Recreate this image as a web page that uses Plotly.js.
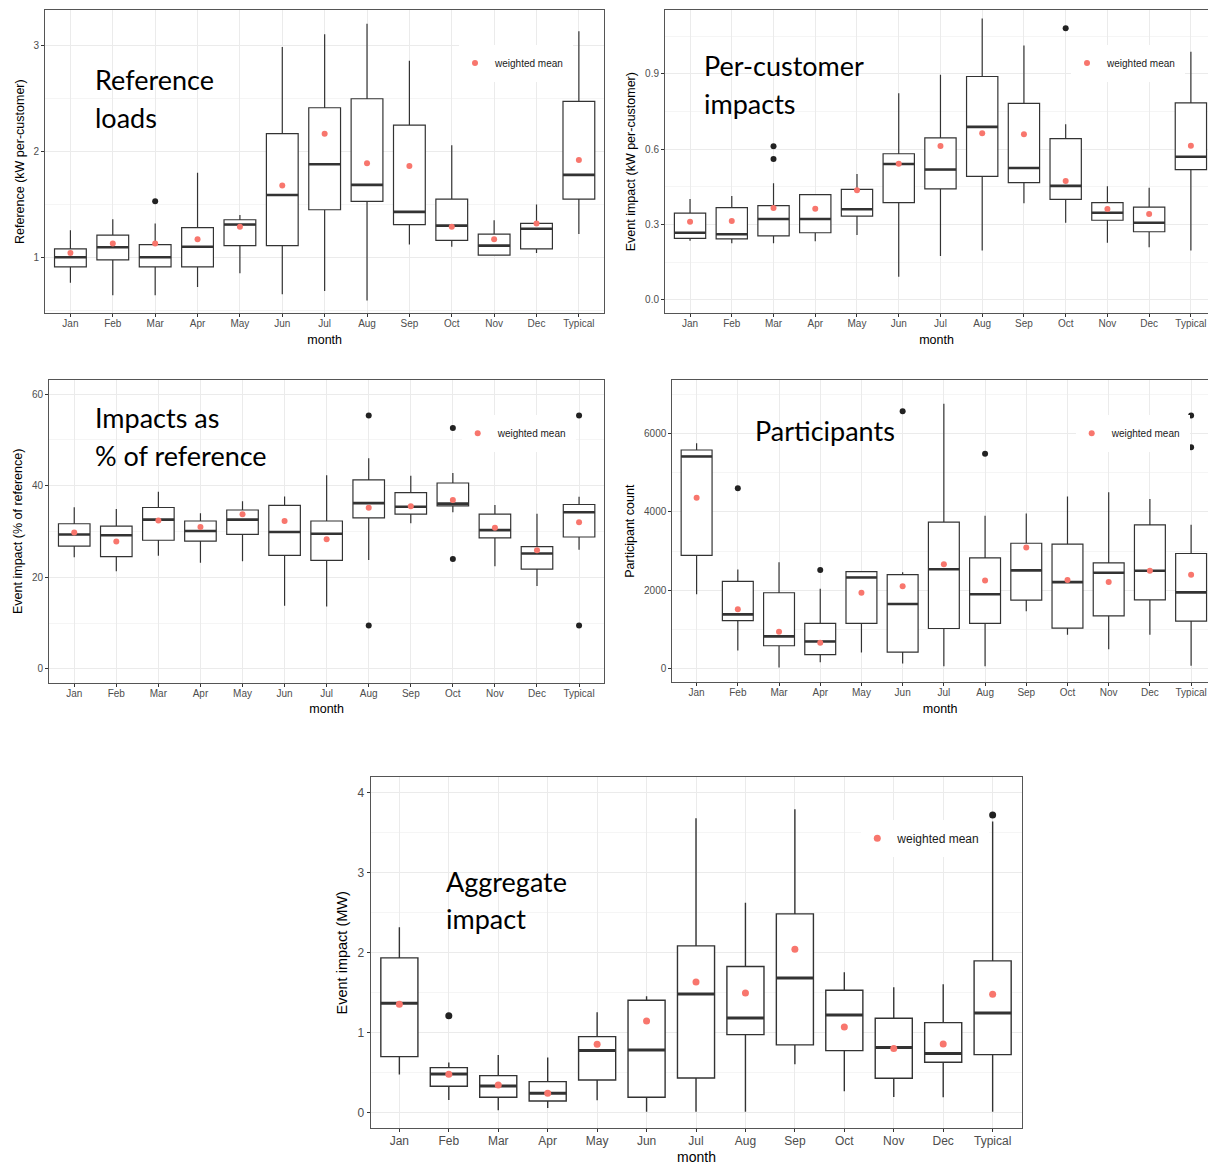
<!DOCTYPE html>
<html>
<head>
<meta charset="utf-8">
<script src="https://cdn.plot.ly/plotly-3.0.1.min.js"></script>
<style>
  html, body { margin: 0; padding: 0; background: #ffffff; }
  #chart { width: 1208px; height: 1165px; }
</style>
</head>
<body>
<div id="chart"></div>
<script>
// Month categories shared by every panel
const MONTHS = ['Jan', 'Feb', 'Mar', 'Apr', 'May', 'Jun', 'Jul', 'Aug', 'Sep', 'Oct', 'Nov', 'Dec', 'Typical'];

// Reference loads (kW per customer)
const refLow  = [0.76, 0.64, 0.64, 0.72, 0.85, 0.65, 0.68, 0.59, 1.12, 1.10, 1.015, 1.04, 1.22];
const refQ1   = [0.91, 0.975, 0.91, 0.91, 1.11, 1.11, 1.45, 1.53, 1.31, 1.16, 1.02, 1.08, 1.55];
const refMed  = [1.00, 1.095, 1.00, 1.10, 1.31, 1.59, 1.88, 1.685, 1.43, 1.30, 1.11, 1.27, 1.78];
const refQ3   = [1.08, 1.21, 1.12, 1.28, 1.355, 2.17, 2.415, 2.50, 2.25, 1.55, 1.22, 1.32, 2.475];
const refHigh = [1.256, 1.36, 1.32, 1.80, 1.40, 2.99, 3.11, 3.21, 2.86, 2.06, 1.35, 1.50, 3.14];
const refMean = [1.04, 1.13, 1.13, 1.17, 1.29, 1.68, 2.17, 1.89, 1.865, 1.29, 1.17, 1.32, 1.92];
const refOutMonth = ['Mar'];
const refOutValue = [1.53];

// Per-customer event impact (kW per customer)
const pcLow  = [0.235, 0.225, 0.225, 0.233, 0.258, 0.092, 0.174, 0.196, 0.385, 0.307, 0.227, 0.209, 0.196];
const pcQ1   = [0.245, 0.243, 0.255, 0.267, 0.333, 0.387, 0.442, 0.492, 0.467, 0.400, 0.317, 0.271, 0.519];
const pcMed  = [0.267, 0.261, 0.322, 0.322, 0.361, 0.541, 0.519, 0.689, 0.525, 0.454, 0.347, 0.307, 0.570];
const pcQ3   = [0.345, 0.367, 0.375, 0.419, 0.440, 0.582, 0.645, 0.890, 0.783, 0.642, 0.387, 0.369, 0.785];
const pcHigh = [0.402, 0.414, 0.464, 0.420, 0.501, 0.823, 0.897, 1.121, 1.013, 0.700, 0.452, 0.446, 0.989];
const pcMean = [0.311, 0.314, 0.366, 0.363, 0.436, 0.542, 0.613, 0.664, 0.660, 0.473, 0.362, 0.342, 0.614];
const pcOutMonth = ['Mar', 'Mar', 'Oct'];
const pcOutValue = [0.612, 0.561, 1.082];

// Event impact as % of reference
const pctLow  = [24.4, 21.3, 24.7, 23.2, 23.5, 13.8, 13.6, 23.8, 31.8, 34.2, 22.4, 18.1, 26.0];
const pctQ1   = [26.8, 24.5, 28.1, 27.9, 29.4, 24.8, 23.7, 33.0, 33.8, 35.6, 28.6, 21.8, 28.8];
const pctMed  = [29.35, 29.2, 32.6, 30.1, 32.6, 29.9, 29.5, 36.2, 35.4, 36.1, 30.3, 25.2, 34.2];
const pctQ3   = [31.7, 31.2, 35.25, 32.3, 34.7, 35.7, 32.3, 41.3, 38.5, 40.6, 33.8, 26.7, 35.9];
const pctHigh = [35.3, 34.9, 38.7, 34.0, 36.6, 37.65, 42.3, 46.0, 42.2, 42.8, 35.8, 33.9, 37.6];
const pctMean = [29.8, 27.8, 32.4, 31.0, 33.8, 32.3, 28.3, 35.2, 35.5, 36.9, 30.8, 25.9, 32.0];
const pctOutMonth = ['Aug', 'Aug', 'Oct', 'Oct', 'Typical', 'Typical'];
const pctOutValue = [55.35, 9.5, 52.6, 24.0, 55.35, 9.5];

// Participant count
const partLow  = [1900, 470, 40, 170, 420, 140, 70, 70, 1470, 870, 500, 870, 80];
const partQ1   = [2890, 1230, 590, 365, 1160, 430, 1030, 1160, 1750, 1040, 1350, 1760, 1220];
const partMed  = [5410, 1390, 830, 700, 2330, 1655, 2540, 1900, 2510, 2210, 2450, 2500, 1950];
const partQ3   = [5575, 2230, 1940, 1160, 2480, 2400, 3740, 2830, 3200, 3180, 2700, 3670, 2940];
const partHigh = [5745, 2530, 2715, 2040, 2480, 2460, 6755, 3900, 3960, 4390, 4500, 4330, 3670];
const partMean = [4360, 1520, 950, 670, 1940, 2105, 2665, 2250, 3090, 2265, 2215, 2500, 2400];
const partOutMonth = ['Feb', 'Apr', 'Jun', 'Aug', 'Typical', 'Typical'];
const partOutValue = [4600, 2520, 6560, 5480, 6450, 5645];

// Aggregate event impact (MW)
const aggLow  = [0.475, 0.158, 0.029, 0.058, 0.154, 0.01, 0.01, 0.01, 0.604, 0.267, 0.196, 0.192, 0.01];
const aggQ1   = [0.70, 0.329, 0.192, 0.146, 0.408, 0.192, 0.433, 0.975, 0.846, 0.775, 0.429, 0.629, 0.725];
const aggMed  = [1.367, 0.483, 0.333, 0.242, 0.775, 0.783, 1.483, 1.183, 1.683, 1.221, 0.8125, 0.7375, 1.246];
const aggQ3   = [1.933, 0.5625, 0.4625, 0.3875, 0.95, 1.404, 2.083, 1.825, 2.483, 1.529, 1.179, 1.125, 1.896];
const aggHigh = [2.317, 0.625, 0.721, 0.6875, 1.254, 1.454, 3.679, 2.621, 3.79, 1.754, 1.567, 1.604, 3.6375];
const aggMean = [1.354, 0.479, 0.346, 0.242, 0.854, 1.146, 1.633, 1.496, 2.042, 1.071, 0.80, 0.858, 1.479];
const aggOutMonth = ['Feb', 'Typical'];
const aggOutValue = [1.21, 3.72];

// ---- drawing ----
const W = 1208, H = 1165;
const BOX_W = 0.75;
const INK = '#333333';
const MEAN_COLOR = '#F8766D';
const AXIS_FONT = '"Liberation Sans", Arial, Helvetica, sans-serif';
const NOTE_FONT = 'Lato, "Open Sans", sans-serif';
const positions = MONTHS.map((_, i) => i);

// legend entry geometry: white frame, pulled-in indent, resulting text offset
const LEG_BORDER = 4;
const LEG_INDENT = -8;
const LEG_TEXT_OFFSET = 40 + LEG_INDENT + LEG_BORDER;

// Panel frames are given in page pixels: [left, right] and [top, bottom]
const panels = [
  {
    low: refLow, q1: refQ1, med: refMed, q3: refQ3, high: refHigh, mean: refMean,
    outMonth: refOutMonth, outValue: refOutValue,
    px: [45, 604.3], py: [10, 313.3], xr: [-0.6, 12.6], yr: [0.47, 3.34],
    dtick: 1, fmt: '', ytitle: 'Reference (kW per-customer)', big: false,
    legendText: [495, 63],
    notes: [['Reference', 93, 79.5], ['loads', 93, 118]]
  },
  {
    low: pcLow, q1: pcQ1, med: pcMed, q3: pcQ3, high: pcHigh, mean: pcMean,
    outMonth: pcOutMonth, outValue: pcOutValue,
    px: [665, 1208], py: [10, 313.3], xr: [-0.6, 12.41], yr: [-0.054, 1.155],
    dtick: 0.3, fmt: '.1f', ytitle: 'Event impact (kW per-customer)', big: false,
    legendText: [1107, 63],
    notes: [['Per-customer', 702, 66], ['impacts', 702, 104]]
  },
  {
    low: pctLow, q1: pctQ1, med: pctMed, q3: pctQ3, high: pctHigh, mean: pctMean,
    outMonth: pctOutMonth, outValue: pctOutValue,
    px: [49, 604.3], py: [380, 682.6], xr: [-0.6, 12.6], yr: [-3.0, 63.1],
    dtick: 20, fmt: 'd', ytitle: 'Event impact (% of reference)', big: false,
    legendText: [497.7, 433.3],
    notes: [['Impacts as', 92.5, 417], ['% of reference', 92.5, 456]]
  },
  {
    low: partLow, q1: partQ1, med: partMed, q3: partQ3, high: partHigh, mean: partMean,
    outMonth: partOutMonth, outValue: partOutValue,
    px: [672.3, 1208], py: [380, 682.3], xr: [-0.59, 12.41], yr: [-340, 7357],
    dtick: 2000, fmt: 'd', ytitle: 'Participant count', big: false,
    legendText: [1111.7, 433.3],
    notes: [['Participants', 753, 431]]
  },
  {
    low: aggLow, q1: aggQ1, med: aggMed, q3: aggQ3, high: aggHigh, mean: aggMean,
    outMonth: aggOutMonth, outValue: aggOutValue,
    px: [370.7, 1022.3], py: [777.3, 1128.3], xr: [-0.58, 12.6], yr: [-0.196, 4.19],
    dtick: 1, fmt: 'd', ytitle: 'Event impact (MW)', big: true,
    legendText: [897.3, 838.3],
    notes: [['Aggregate', 443.5, 881], ['impact', 443.5, 918]]
  }
];

const traces = [];
const layout = {
  width: W, height: H,
  margin: { l: 0, r: 0, t: 0, b: 0 },
  paper_bgcolor: '#ffffff',
  plot_bgcolor: '#ffffff',
  showlegend: true,
  font: { family: AXIS_FONT, color: '#1a1a1a' },
  annotations: []
};

panels.forEach((p, i) => {
  const n = i + 1;
  const s = n === 1 ? '' : String(n);
  const xa = 'x' + s, ya = 'y' + s;
  const legendId = 'legend' + s;
  const tickSize = p.big ? 12 : 10;
  const yTitleSize = p.big ? 14.5 : 12.5;
  const xTitleSize = p.big ? 14 : 12.5;
  const dot = p.big ? 7 : 6;
  const boxLine = p.big ? 1.4 : 1.2;
  const medLine = p.big ? 3 : 2.6;

  // boxes from the five-number summaries
  traces.push({
    type: 'box', xaxis: xa, yaxis: ya,
    x: positions,
    q1: p.q1, median: p.med, q3: p.q3,
    lowerfence: p.low, upperfence: p.high,
    width: BOX_W, whiskerwidth: 0,
    boxpoints: false,
    fillcolor: '#ffffff',
    line: { color: INK, width: boxLine },
    showlegend: false, hoverinfo: 'y'
  });

  // heavier median bars
  traces.push({
    type: 'scatter', mode: 'lines', xaxis: xa, yaxis: ya,
    x: positions.flatMap(k => [k - BOX_W / 2, k + BOX_W / 2, null]),
    y: p.med.flatMap(m => [m, m, null]),
    line: { color: INK, width: medLine },
    showlegend: false, hoverinfo: 'skip'
  });

  // outlying observations
  traces.push({
    type: 'scatter', mode: 'markers', xaxis: xa, yaxis: ya,
    x: p.outMonth.map(m => MONTHS.indexOf(m)),
    y: p.outValue,
    marker: { color: '#222222', size: dot },
    showlegend: false, hoverinfo: 'y'
  });

  // weighted means
  traces.push({
    type: 'scatter', mode: 'markers', xaxis: xa, yaxis: ya,
    x: positions, y: p.mean,
    name: 'weighted mean',
    legend: legendId,
    marker: { color: MEAN_COLOR, size: dot },
    showlegend: true, hoverinfo: 'y'
  });

  layout['xaxis' + s] = {
    domain: [p.px[0] / W, p.px[1] / W],
    anchor: ya,
    range: p.xr,
    tickmode: 'array', tickvals: positions, ticktext: MONTHS,
    showgrid: true, gridcolor: '#ebebeb', gridwidth: 1,
    zeroline: false,
    showline: true, mirror: true, linecolor: '#555555', linewidth: 1,
    ticks: 'outside', ticklen: 3, tickwidth: 1, tickcolor: INK,
    ticklabelstandoff: -2,
    tickfont: { family: AXIS_FONT, size: tickSize, color: '#4d4d4d' },
    title: { text: 'month', standoff: 6, font: { family: AXIS_FONT, size: xTitleSize, color: '#000000' } },
    fixedrange: true
  };

  layout['yaxis' + s] = {
    domain: [1 - p.py[1] / H, 1 - p.py[0] / H],
    anchor: xa,
    range: p.yr,
    tickmode: 'linear', tick0: 0, dtick: p.dtick,
    tickformat: p.fmt,
    showgrid: true, gridcolor: '#ebebeb', gridwidth: 1,
    minor: { showgrid: true, gridcolor: '#f5f5f5', gridwidth: 1, tick0: 0, dtick: p.dtick / 2, ticks: '' },
    zeroline: false,
    showline: true, mirror: true, linecolor: '#555555', linewidth: 1,
    ticks: 'outside', ticklen: 3, tickwidth: 1, tickcolor: INK,
    tickfont: { family: AXIS_FONT, size: tickSize, color: '#4d4d4d' },
    title: { text: p.ytitle, standoff: 6, font: { family: AXIS_FONT, size: yTitleSize, color: '#000000' } },
    fixedrange: true
  };

  layout[legendId] = {
    x: (p.legendText[0] - LEG_TEXT_OFFSET) / W, xanchor: 'left',
    y: 1 - p.legendText[1] / H, yanchor: 'middle',
    indentation: LEG_INDENT,
    bgcolor: '#ffffff', bordercolor: '#ffffff', borderwidth: LEG_BORDER,
    font: { family: AXIS_FONT, size: p.big ? 12 : 10, color: '#1a1a1a' }
  };

  p.notes.forEach(([text, nx, ny]) => {
    layout.annotations.push({
      xref: 'paper', yref: 'paper',
      x: nx / W, y: 1 - ny / H,
      xanchor: 'left', yanchor: 'middle',
      text: text, showarrow: false,
      font: { family: NOTE_FONT, size: 27, color: '#000000' }
    });
  });
});

Plotly.newPlot('chart', traces, layout, { displayModeBar: false, staticPlot: true });
</script>
</body>
</html>
